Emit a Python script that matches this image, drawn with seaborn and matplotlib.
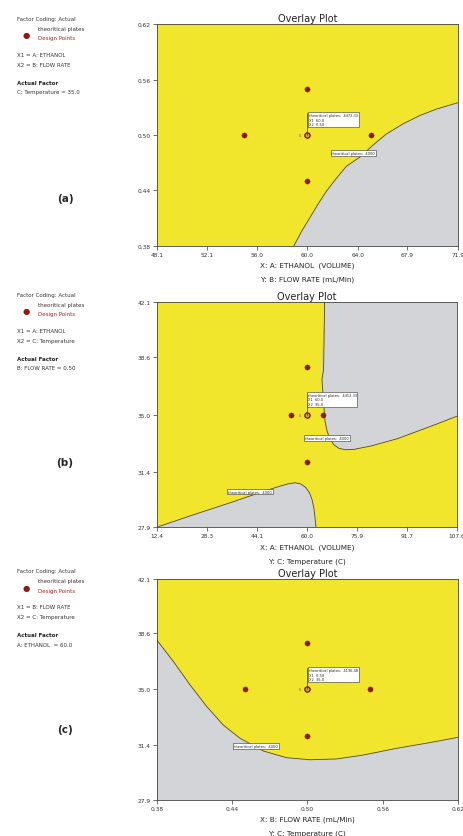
import numpy as np
import pandas as pd
import matplotlib
matplotlib.use("Agg")
import matplotlib.pyplot as plt
import seaborn as sns

sns.set_theme(style="white")
plt.rcParams['font.family'] = ['DejaVu Sans']

YELLOW = "#F1E62B"
GRAY = "#D3D4D7"
RED = "#8E1A10"
LINE = "#4F4A1E"

# ---------------- data ----------------
# Panel (a): X = A: ETHANOL, Y = B: FLOW RATE
a_xticks = [48.1, 52.1, 56.0, 60.0, 64.0, 67.9, 71.9]
a_yticks = [0.38, 0.44, 0.50, 0.56, 0.62]
a_pts_x = [60.0, 60.0, 55.0, 65.0, 60.0]
a_pts_y = [0.55, 0.45, 0.50, 0.50, 0.50]
a_bnd_x = [58.93, 59.51, 60.17, 60.83, 61.49, 62.28, 63.07, 64.13, 65.18, 66.23, 67.55, 68.87, 70.19, 71.9]
a_bnd_y = [0.380, 0.395, 0.410, 0.425, 0.439, 0.453, 0.466, 0.476, 0.489, 0.501, 0.512, 0.521, 0.528, 0.535]

# Panel (b): X = A: ETHANOL, Y = C: Temperature
b_xticks = [12.4, 28.3, 44.1, 60.0, 75.9, 91.7, 107.6]
b_yticks = [27.9, 31.4, 35.0, 38.6, 42.1]
b_pts_x = [60.0, 60.0, 55.0, 65.0, 60.0]
b_pts_y = [38.0, 32.0, 35.0, 35.0, 35.0]
b_bnd1_x = [65.6, 65.29, 64.97, 64.76, 64.97, 65.29, 65.71, 66.35, 67.19, 68.46, 70.05, 72.17, 74.81, 80.10, 88.56, 99.14, 107.6]
b_bnd1_y = [42.1, 40.39, 38.71, 37.24, 36.20, 35.36, 34.62, 33.99, 33.51, 33.11, 32.88, 32.78, 32.80, 33.01, 33.47, 34.25, 34.9]
b_bnd2_x = [12.4, 25.09, 35.67, 46.25, 51.54, 54.18, 56.30, 58.10, 59.68, 60.85, 61.69, 62.22, 62.54, 62.86]
b_bnd2_y = [27.9, 28.75, 29.44, 30.16, 30.49, 30.64, 30.70, 30.62, 30.39, 30.05, 29.59, 29.07, 28.54, 27.9]

# Panel (c): X = B: FLOW RATE, Y = C: Temperature
c_xticks = [0.38, 0.44, 0.50, 0.56, 0.62]
c_yticks = [27.9, 31.4, 35.0, 38.6, 42.1]
c_pts_x = [0.50, 0.50, 0.45, 0.55, 0.50]
c_pts_y = [38.0, 32.0, 35.0, 35.0, 35.0]
c_bnd_x = [0.38, 0.3933, 0.4065, 0.4198, 0.4330, 0.4463, 0.4649, 0.4834, 0.5020, 0.5232, 0.5444, 0.5709, 0.5975, 0.62]
c_bnd_y = [38.17, 36.78, 35.28, 33.89, 32.70, 31.85, 31.03, 30.60, 30.47, 30.52, 30.77, 31.20, 31.57, 31.91]

# ---------------- figure ----------------
fig = plt.figure(figsize=(4.64, 8.37), dpi=100)

def fmt(t):
    return f"{t:.1f}" if t > 5 else f"{t:.2f}"

def style_axes(ax, xticks, yticks, title, xlab, ylab):
    ax.set_xlim(xticks[0], xticks[-1])
    ax.set_ylim(yticks[0], yticks[-1])
    ax.set_facecolor(YELLOW)
    ax.set_xticks(xticks)
    ax.set_yticks(yticks)
    ax.set_xticklabels([fmt(t) for t in xticks])
    ax.set_yticklabels([fmt(t) for t in yticks])
    ax.tick_params(axis='both', labelsize=4.2, length=3, width=0.5, colors="#333333",
                   direction='out', bottom=True, left=True, pad=1.5)
    for s in ax.spines.values():
        s.set_linewidth(0.6)
        s.set_color("#444444")
    ax.set_title(title, fontsize=7, pad=2, color="#222222")
    ax.set_xlabel("")
    ax.set_ylabel("")
    ax.text(0.5, -0.085, xlab, transform=ax.transAxes, ha='center', va='center', fontsize=5.2, color="#222222")
    ax.text(0.5, -0.15, ylab, transform=ax.transAxes, ha='center', va='center', fontsize=5.2, color="#222222")

def design_points(ax, xs, ys):
    df = pd.DataFrame({"x": xs, "y": ys})
    sns.scatterplot(data=df, x="x", y="y", ax=ax, color=RED, s=14, edgecolor=RED, linewidth=0.3, zorder=5)
    ax.scatter([xs[-1]], [ys[-1]], s=14, facecolor="#C9B53A", edgecolor=RED, linewidth=1.0, zorder=6)

def boundary(ax, xs, ys):
    df = pd.DataFrame({"x": xs, "y": ys})
    sns.lineplot(data=df, x="x", y="y", ax=ax, sort=False, color=LINE, linewidth=0.6, zorder=3)

def flag(ax, x0, y0, lines, px=None, py=None):
    ax.text(x0, y0, "\n".join(lines), fontsize=2.6, va='top', ha='left', linespacing=1.1,
            bbox=dict(boxstyle="square,pad=0.25", fc="white", ec="#333333", lw=0.4), zorder=7)
    if px is not None:
        ax.plot([px, px], [py, y0], color="#333333", lw=0.5, zorder=6)

def legend_block(fx, fy, x1, x2, actual):
    fs = 4.0
    fig.text(fx, fy, "Factor Coding: Actual", fontsize=fs, color="#333333")
    fig.text(fx + 0.045, fy - 0.0115, "theoritical plates", fontsize=fs, color="#333333")
    fig.text(fx + 0.045, fy - 0.023, "Design Points", fontsize=fs, color="#B02020")
    fig.text(fx + 0.012, fy - 0.0205, "\u25CF", fontsize=6, color=RED)
    fig.text(fx, fy - 0.043, "X1 = " + x1, fontsize=fs, color="#333333")
    fig.text(fx, fy - 0.0545, "X2 = " + x2, fontsize=fs, color="#333333")
    fig.text(fx, fy - 0.076, "Actual Factor", fontsize=fs, color="#222222", fontweight='bold')
    fig.text(fx, fy - 0.0875, actual, fontsize=fs, color="#333333")

# ---- panel (a)
axa = fig.add_axes([0.338, 0.705, 0.649, 0.265])
axa.fill(a_bnd_x + [a_xticks[-1]], a_bnd_y + [a_yticks[0]], color=GRAY, zorder=2, lw=0)
boundary(axa, a_bnd_x, a_bnd_y)
design_points(axa, a_pts_x, a_pts_y)
style_axes(axa, a_xticks, a_yticks, "Overlay Plot", "X: A: ETHANOL  (VOLUME)", "Y: B: FLOW RATE (mL/Min)")
axa.text(59.4, 0.50, "5", fontsize=2.5, ha='center', va='center', color="#555555", zorder=6)
flag(axa, 60.1, 0.5235, ["theoritical plates:  4472.33", "X1  60.0", "X2  0.50"], 60.0, 0.50)
flag(axa, 61.9, 0.4825, ["theoritical plates:  4000"])
legend_block(0.037, 0.975, "A: ETHANOL", "B: FLOW RATE", "C: Temperature = 35.0")
fig.text(0.14, 0.762, "(a)", fontsize=7.5, fontweight='bold', ha='center', va='center')

# ---- panel (b)
axb = fig.add_axes([0.338, 0.369, 0.647, 0.269])
axb.fill(b_bnd1_x + [b_xticks[-1]], b_bnd1_y + [b_yticks[-1]], color=GRAY, zorder=2, lw=0)
axb.fill(b_bnd2_x, b_bnd2_y, color=GRAY, zorder=2, lw=0)
boundary(axb, b_bnd1_x, b_bnd1_y)
boundary(axb, b_bnd2_x, b_bnd2_y)
design_points(axb, b_pts_x, b_pts_y)
style_axes(axb, b_xticks, b_yticks, "Overlay Plot", "X: A: ETHANOL  (VOLUME)", "Y: C: Temperature (C)")
axb.text(57.8, 35.0, "5", fontsize=2.5, ha='center', va='center', color="#555555", zorder=6)
flag(axb, 60.2, 36.35, ["theoritical plates:  4412.33", "X1  60.0", "X2  35.0"], 60.0, 35.0)
flag(axb, 59.4, 33.65, ["theoritical plates:  4000"])
flag(axb, 35.0, 30.27, ["theoritical plates:  4000"])
legend_block(0.037, 0.645, "A: ETHANOL", "C: Temperature", "B: FLOW RATE = 0.50")
fig.text(0.14, 0.447, "(b)", fontsize=7.5, fontweight='bold', ha='center', va='center')

# ---- panel (c)
axc = fig.add_axes([0.338, 0.0434, 0.649, 0.2637])
axc.fill(c_bnd_x + [c_xticks[-1], c_xticks[0]], c_bnd_y + [c_yticks[0], c_yticks[0]], color=GRAY, zorder=2, lw=0)
boundary(axc, c_bnd_x, c_bnd_y)
design_points(axc, c_pts_x, c_pts_y)
style_axes(axc, c_xticks, c_yticks, "Overlay Plot", "X: B: FLOW RATE (mL/Min)", "Y: C: Temperature (C)")
axc.text(0.494, 35.0, "5", fontsize=2.5, ha='center', va='center', color="#555555", zorder=6)
flag(axc, 0.5015, 36.35, ["theoritical plates:  4136.48", "X1  0.50", "X2  35.0"], 0.50, 35.0)
flag(axc, 0.4415, 31.47, ["theoritical plates:  4000"])
legend_block(0.037, 0.315, "B: FLOW RATE", "C: Temperature", "A: ETHANOL  = 60.0")
fig.text(0.14, 0.128, "(c)", fontsize=7.5, fontweight='bold', ha='center', va='center')

fig.savefig("out.png", dpi=100)
